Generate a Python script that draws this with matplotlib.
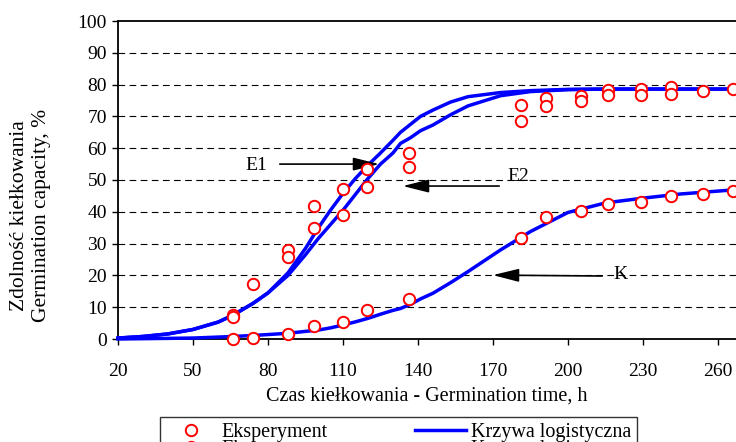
import matplotlib
matplotlib.use("Agg")
import matplotlib.pyplot as plt
from matplotlib.lines import Line2D

plt.rcParams['font.family'] = ['Liberation Serif', 'DejaVu Serif']

# experimental points (h, %)
exp_t = [66, 66, 66, 74, 74, 88, 88, 88, 98.5, 98.5, 98.5, 110, 110, 110,
         119.5, 119.5, 119.5, 136.5, 136.5, 136.5,
         181, 181, 181, 191, 191, 191, 205, 205, 205, 216, 216, 216,
         229, 229, 229, 241, 241, 241, 254, 254, 266, 266]
exp_y = [7.7, 6.9, 0.0, 17.4, 0.4, 28.0, 25.8, 1.5, 41.8, 35.0, 4.1, 47.3, 39.0, 5.2,
         53.4, 47.9, 9.1, 58.5, 54.0, 12.5,
         73.5, 68.4, 31.9, 75.9, 73.4, 38.5, 76.4, 74.9, 40.3, 78.3, 76.6, 42.5,
         78.5, 76.6, 43.0, 79.1, 77.1, 45.1, 77.9, 45.7, 78.5, 46.6]

# logistic curves
curve_t = [20, 30, 40, 50, 60, 66, 74, 80, 88, 95, 100, 105, 110, 115, 120, 125,
           130, 133, 137, 141, 146, 153, 160, 173, 185, 200, 215, 230, 245, 268]
curve_e1 = [0.3, 0.8, 1.6, 3.0, 5.3, 7.5, 11.2, 14.5, 20.8, 28.5, 34.8, 40.5, 45.8,
            50.5, 54.7, 58.5, 62.5, 65.0, 67.5, 70.0, 72.0, 74.5, 76.2, 77.5, 78.1,
            78.5, 78.6, 78.6, 78.6, 78.6]
curve_e2 = [0.3, 0.8, 1.6, 3.0, 5.3, 7.5, 11.2, 14.5, 20.0, 26.5, 31.5, 36.0, 40.5,
            45.5, 50.5, 55.0, 58.5, 61.5, 63.3, 65.5, 67.3, 70.5, 73.3, 76.5, 77.8,
            78.4, 78.6, 78.6, 78.6, 78.6]
curve_k = [0.0, 0.1, 0.2, 0.3, 0.6, 0.8, 1.1, 1.4, 1.8, 2.4, 2.8, 3.5, 4.4, 5.4,
           6.5, 7.8, 9.0, 9.6, 10.9, 12.6, 14.4, 17.7, 21.2, 28.0, 33.8, 39.8,
           42.8, 44.3, 45.6, 47.0]

fig = plt.figure(figsize=(7.36, 4.42), dpi=100)
ax = fig.add_axes([118 / 736, 1 - 339 / 442, 1 - 118 / 736, (339 - 21) / 442])

for yc in [curve_e1, curve_e2, curve_k]:
    ax.plot(curve_t, yc, color='#0000FF', lw=2.5, clip_on=False, zorder=3)
ax.plot(exp_t, exp_y, 'o', mfc='white', mec='#FF0000', ms=8.2, mew=1.4,
        clip_on=False, zorder=4)

ax.set_xlim(20, 267.2)
ax.set_ylim(0, 100)
ax.set_xticks(range(20, 261, 30))
ax.set_yticks(range(0, 101, 10))
for yg in range(10, 100, 10):
    ax.axhline(yg, color='black', lw=0.8, ls=(0, (6, 4)), zorder=1)
ax.spines['right'].set_visible(False)
for s in ['left', 'bottom', 'top']:
    ax.spines[s].set_linewidth(1.3)
ax.tick_params(direction='out', length=4, width=1, labelsize=14)
ax.tick_params(axis='x', pad=13)
ax.tick_params(axis='y', pad=4)

ax.set_xlabel('Czas kiełkowania - Germination time, h', fontsize=14.5, labelpad=5)
ax.set_ylabel('Zdolność kiełkowania\nGermination capacity, %', fontsize=15.5,
              linespacing=1.25)
ax.yaxis.set_label_coords(-0.108, 0.387)

arrow = dict(arrowstyle='-|>,head_length=1.6,head_width=0.4', color='black', lw=1.2)
ax.annotate('', xy=(125.6, 55.0), xytext=(83.6, 55.0), arrowprops=arrow)
ax.text(75.5, 54.5, 'E1', fontsize=14, ha='center', va='center')
ax.annotate('', xy=(132.8, 48.1), xytext=(173.6, 48.1), arrowprops=arrow)
ax.text(180, 51.0, 'E2', fontsize=14, ha='center', va='center')
ax.annotate('', xy=(168.8, 20.1), xytext=(214.8, 19.8), arrowprops=arrow)
ax.text(221, 20.4, 'K', fontsize=14, ha='center', va='center')

h_exp = Line2D([], [], ls='none', marker='o', mfc='white', mec='#FF0000', ms=8.2, mew=1.4)
h_fit = Line2D([], [], color='#0000FF', lw=2.5)
leg = fig.legend([h_exp, h_exp, h_fit, h_fit],
                 ['Eksperyment', 'Eksperyment', 'Krzywa logistyczna', 'Krzywa logistyczna'],
                 ncol=2, loc='upper left', bbox_to_anchor=(160 / 736, 1 - 417 / 442),
                 fontsize=14.5, frameon=True, fancybox=False, edgecolor='black',
                 borderaxespad=0, handlelength=2.5, handletextpad=0.25,
                 columnspacing=4.35, labelspacing=-0.1, borderpad=0.3)
leg.get_frame().set_linewidth(1.0)

fig.savefig('out.png', dpi=100)
